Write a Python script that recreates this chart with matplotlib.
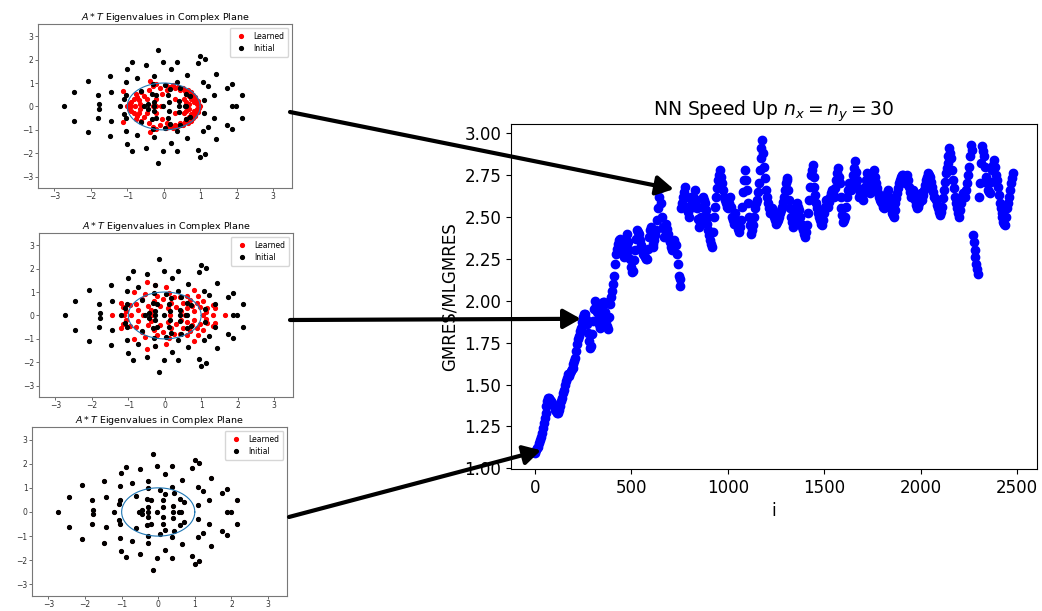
import numpy as np
import matplotlib
matplotlib.use("Agg")
import matplotlib.pyplot as plt

# ---- speed-up history (sampled every 5 iterations) ----
iter_step = 5
speedup = [
    1.09, 1.11, 1.12, 1.13, 1.15, 1.17, 1.19, 1.21, 1.24, 1.27, 1.30, 1.33, 1.37, 1.40, 1.42, 1.42, 1.41, 1.40, 1.39, 1.38,
    1.37, 1.35, 1.34, 1.33, 1.33, 1.35, 1.37, 1.40, 1.42, 1.45, 1.47, 1.50, 1.52, 1.54, 1.56, 1.55, 1.57, 1.58, 1.59, 1.60,
    1.62, 1.64, 1.66, 1.70, 1.74, 1.77, 1.79, 1.82, 1.84, 1.87, 1.90, 1.92, 1.92, 1.89, 1.86, 1.81, 1.76, 1.72, 1.73, 1.80,
    1.88, 1.95, 2.00, 1.97, 1.93, 1.89, 1.86, 1.84, 1.85, 1.91, 1.97, 1.99, 1.99, 1.93, 1.88, 1.85, 1.83, 1.90, 1.98, 2.02,
    2.06, 2.10, 2.15, 2.22, 2.28, 2.31, 2.34, 2.36, 2.37, 2.35, 2.33, 2.29, 2.26, 2.29, 2.32, 2.37, 2.40, 2.35, 2.30, 2.25,
    2.20, 2.17, 2.18, 2.24, 2.30, 2.37, 2.42, 2.41, 2.40, 2.36, 2.33, 2.30, 2.28, 2.27, 2.26, 2.25, 2.25, 2.31, 2.38, 2.42,
    2.44, 2.38, 2.32, 2.34, 2.36, 2.39, 2.42, 2.48, 2.55, 2.62, 2.67, 2.58, 2.50, 2.44, 2.38, 2.42, 2.46, 2.43, 2.40, 2.37,
    2.35, 2.32, 2.30, 2.33, 2.36, 2.34, 2.33, 2.28, 2.22, 2.15, 2.09, 2.13, 2.55, 2.58, 2.62, 2.65, 2.68, 2.62, 2.56, 2.53,
    2.50, 2.56, 2.62, 2.59, 2.56, 2.61, 2.66, 2.60, 2.55, 2.49, 2.44, 2.47, 2.50, 2.56, 2.62, 2.60, 2.58, 2.54, 2.50, 2.46,
    2.42, 2.39, 2.36, 2.34, 2.32, 2.41, 2.50, 2.56, 2.62, 2.67, 2.72, 2.75, 2.78, 2.74, 2.70, 2.66, 2.62, 2.60, 2.58, 2.56,
    2.55, 2.58, 2.62, 2.56, 2.50, 2.48, 2.46, 2.49, 2.52, 2.48, 2.45, 2.43, 2.41, 2.44, 2.48, 2.56, 2.65, 2.72, 2.78, 2.72,
    2.66, 2.58, 2.50, 2.45, 2.40, 2.42, 2.45, 2.50, 2.55, 2.58, 2.60, 2.65, 2.70, 2.78, 2.85, 2.91, 2.96, 2.88, 2.80, 2.73,
    2.66, 2.62, 2.58, 2.55, 2.52, 2.53, 2.55, 2.52, 2.50, 2.48, 2.46, 2.47, 2.48, 2.50, 2.52, 2.54, 2.56, 2.59, 2.62, 2.66,
    2.70, 2.72, 2.73, 2.66, 2.60, 2.55, 2.50, 2.47, 2.44, 2.48, 2.52, 2.55, 2.58, 2.56, 2.54, 2.50, 2.46, 2.44, 2.42, 2.40,
    2.38, 2.41, 2.45, 2.52, 2.60, 2.68, 2.75, 2.78, 2.81, 2.74, 2.68, 2.63, 2.58, 2.55, 2.52, 2.50, 2.48, 2.46, 2.45, 2.48,
    2.52, 2.56, 2.60, 2.58, 2.56, 2.59, 2.62, 2.64, 2.66, 2.64, 2.62, 2.67, 2.72, 2.76, 2.79, 2.74, 2.70, 2.62, 2.55, 2.51,
    2.47, 2.48, 2.50, 2.56, 2.62, 2.66, 2.70, 2.68, 2.66, 2.70, 2.75, 2.79, 2.83, 2.77, 2.72, 2.67, 2.62, 2.64, 2.66, 2.63,
    2.60, 2.64, 2.68, 2.72, 2.76, 2.73, 2.70, 2.67, 2.64, 2.68, 2.72, 2.75, 2.78, 2.74, 2.70, 2.67, 2.64, 2.62, 2.60, 2.59,
    2.58, 2.56, 2.55, 2.58, 2.62, 2.64, 2.66, 2.62, 2.58, 2.55, 2.52, 2.51, 2.50, 2.54, 2.58, 2.61, 2.64, 2.67, 2.70, 2.72,
    2.74, 2.75, 2.75, 2.72, 2.70, 2.72, 2.75, 2.72, 2.68, 2.65, 2.62, 2.64, 2.66, 2.63, 2.60, 2.57, 2.55, 2.56, 2.58, 2.61,
    2.64, 2.62, 2.60, 2.63, 2.66, 2.69, 2.72, 2.74, 2.76, 2.75, 2.74, 2.71, 2.68, 2.65, 2.62, 2.61, 2.60, 2.57, 2.55, 2.53,
    2.51, 2.53, 2.56, 2.61, 2.66, 2.71, 2.76, 2.79, 2.82, 2.86, 2.91, 2.88, 2.85, 2.78, 2.72, 2.67, 2.62, 2.58, 2.55, 2.52,
    2.50, 2.54, 2.58, 2.61, 2.64, 2.63, 2.62, 2.66, 2.70, 2.75, 2.80, 2.86, 2.93, 2.90, 2.39, 2.35, 2.30, 2.26, 2.22, 2.19,
    2.16, 2.62, 2.70, 2.82, 2.92, 2.89, 2.86, 2.80, 2.74, 2.70, 2.66, 2.65, 2.64, 2.71, 2.78, 2.81, 2.84, 2.80, 2.75, 2.72,
    2.68, 2.63, 2.58, 2.55, 2.52, 2.50, 2.47, 2.46, 2.45, 2.50, 2.55, 2.58, 2.62, 2.66, 2.70, 2.73, 2.76,
]

# ---- eigenvalues of A*T (upper half-plane; conjugates are mirrored) ----
initial_upper = [
    (-2.45, 0.62), (-2.07, 1.10), (-1.80, 0.51), (-1.78, 0.10), (-1.47, 1.28),
    (-1.44, 0.62), (-1.04, 0.49), (-1.08, 0.34), (-1.04, 1.06), (-1.01, 1.62),
    (-0.87, 1.88), (-0.73, 1.22), (-0.62, 0.65), (-0.49, 1.76), (-0.44, 0.10),
    (-0.31, 0.55), (-0.27, 1.30), (-0.29, 0.98), (-0.28, 0.19), (-0.20, 0.51),
    (-0.15, 2.40), (-0.02, 1.90), (0.04, 0.91), (0.13, 0.51), (0.14, 0.19),
    (0.18, 0.76), (0.19, 1.58), (0.37, 1.90), (0.37, 1.03), (0.41, 0.23),
    (0.44, 0.80), (0.60, 0.55), (0.64, 1.33), (0.71, 0.43), (0.93, 1.84),
    (1.00, 2.14), (1.12, 2.03), (1.08, 1.04), (1.10, 0.27), (1.22, 0.88),
    (1.39, 0.48), (1.43, 1.40), (1.73, 0.78), (1.87, 0.96), (2.14, 0.51),
]
initial_real = [-2.74, -1.21, -0.53, -0.28, -0.02, 0.41, 0.58, 0.62, 1.88, 1.98]

learned1_upper = [
    (-1.12, 0.65), (-0.95, 0.10), (-0.90, 0.18), (-0.82, 0.30), (-0.75, 0.54),
    (-0.72, 0.42), (-0.68, 0.28), (-0.66, 0.12), (-0.62, 0.62), (-0.55, 0.45),
    (-0.45, 0.30), (-0.40, 0.72), (-0.38, 1.07), (-0.30, 0.88), (-0.22, 0.97),
    (-0.20, 0.30), (-0.10, 0.80), (-0.05, 0.55), (0.05, 0.92), (0.10, 0.70),
    (0.18, 0.82), (0.25, 0.90), (0.32, 0.78), (0.40, 0.85), (0.45, 0.70),
    (0.52, 0.78), (0.58, 0.66), (0.62, 0.55), (0.66, 0.70), (0.70, 0.45),
    (0.74, 0.60), (0.76, 0.32), (0.80, 0.50), (0.82, 0.20), (0.85, 0.40),
    (0.88, 0.28), (0.90, 0.12), (0.93, 0.22), (0.96, 0.08), (0.55, 0.30),
    (0.60, 0.18), (0.30, 0.30), (0.70, 0.12),
]
learned1_real = [-1.02, -0.90, -0.80, -0.58, -0.30, -0.22, -0.08, 0.98, 1.00]

learned2_upper = [
    (-1.20, 0.55), (-1.15, 0.35), (-1.05, 0.20), (-0.95, 0.45), (-0.83, 1.00),
    (-0.80, 0.48), (-0.72, 0.25), (-0.62, 0.70), (-0.55, 0.93), (-0.50, 1.41),
    (-0.45, 0.40), (-0.38, 0.22), (-0.30, 0.62), (-0.26, 1.30), (-0.20, 0.85),
    (-0.12, 0.40), (-0.05, 0.70), (0.03, 1.20), (0.08, 0.30), (0.12, 0.95),
    (0.18, 0.55), (0.25, 0.80), (0.32, 0.35), (0.42, 0.79), (0.45, 0.20),
    (0.50, 0.55), (0.60, 0.85), (0.62, 0.30), (0.68, 0.65), (0.75, 0.42),
    (0.79, 1.09), (0.80, 0.20), (0.88, 0.55), (0.91, 0.82), (0.98, 0.35),
    (1.05, 0.60), (1.12, 0.15), (1.16, 0.34), (1.32, 0.45), (1.39, 0.34),
]
learned2_real = [-1.46, -1.13, -0.92, -0.60, -0.35, 0.15, 0.55, 1.05, 1.32, 1.66]


def spectrum(upper, real):
    up = np.array(upper)
    re = np.concatenate([up[:, 0], up[:, 0], real])
    im = np.concatenate([up[:, 1], -up[:, 1], np.zeros(len(real))])
    return re, im


W, H = 1042, 611
fig = plt.figure(figsize=(W / 100, H / 100), dpi=100)


def fbox(x0, y0, x1, y1):
    return [x0 / W, 1 - y1 / H, (x1 - x0) / W, (y1 - y0) / H]


# ---- small eigenvalue panels ----
init_re, init_im = spectrum(initial_upper, initial_real)
panels = [
    (fbox(38, 24, 292, 188), spectrum(learned1_upper, learned1_real), 5.5),
    (fbox(39, 233, 293, 397), spectrum(learned2_upper, learned2_real), 5.5),
    # after zero training steps the learned spectrum equals the initial one
    (fbox(32, 427, 287, 596), (init_re, init_im), 4.5),
]
theta = np.linspace(0, 2 * np.pi, 200)
for box, (lr, li), red_ms in panels:
    a = fig.add_axes(box)
    a.plot(lr, li, '.', color='red', ms=red_ms, label='Learned')
    a.plot(init_re, init_im, '.', color='black', ms=5.5, label='Initial')
    a.plot(np.cos(theta), np.sin(theta), color='C0', lw=0.8)
    a.set_xlim(-3.45, 3.52)
    a.set_ylim(-3.48, 3.52)
    a.set_xticks([-3, -2, -1, 0, 1, 2, 3])
    a.set_yticks([-3, -2, -1, 0, 1, 2, 3])
    a.tick_params(labelsize=5.5, length=2, width=0.5, pad=1.2, colors='#333333')
    for s in a.spines.values():
        s.set_linewidth(0.8)
        s.set_color('#777777')
    a.set_title(r'$A*T$ Eigenvalues in Complex Plane', fontsize=6.8, pad=3)
    leg = a.legend(loc='upper right', fontsize=5.5, markerscale=1.0,
                   handletextpad=0.6, borderpad=0.5, labelspacing=0.4)
    leg.legend_handles[0].set_markersize(5.5)

# ---- main speed-up panel ----
ax = fig.add_axes(fbox(511, 124, 1037, 469))
iters = np.arange(len(speedup)) * iter_step
ax.scatter(iters, speedup, s=36, color='blue')
ax.set_title(r'NN Speed Up $n_x = n_y = 30$', fontsize=13.5, pad=6)
ax.set_xlabel('i', fontsize=12)
ax.set_ylabel('GMRES/MLGMRES', fontsize=12)
ax.set_yticks([1.0, 1.25, 1.5, 1.75, 2.0, 2.25, 2.5, 2.75, 3.0])
ax.set_xticks([0, 500, 1000, 1500, 2000, 2500])
ax.tick_params(labelsize=12)

# ---- arrows linking each spectrum to its point in training ----
arrow_kw = dict(arrowstyle='-|>,head_length=0.8,head_width=0.45',
                color='black', lw=3, shrinkA=0, shrinkB=0, mutation_scale=13)
links = [((290, 112), (720, 2.665)),
         ((290, 320), (238, 1.892)),
         ((289, 517), (31, 1.108))]
for (tx, ty), (xi, yv) in links:
    ax.annotate('', xy=(xi, yv), xycoords='data',
                xytext=(tx / W, 1 - ty / H), textcoords='figure fraction',
                arrowprops=arrow_kw, annotation_clip=False)

fig.savefig('out.png', dpi=100)
